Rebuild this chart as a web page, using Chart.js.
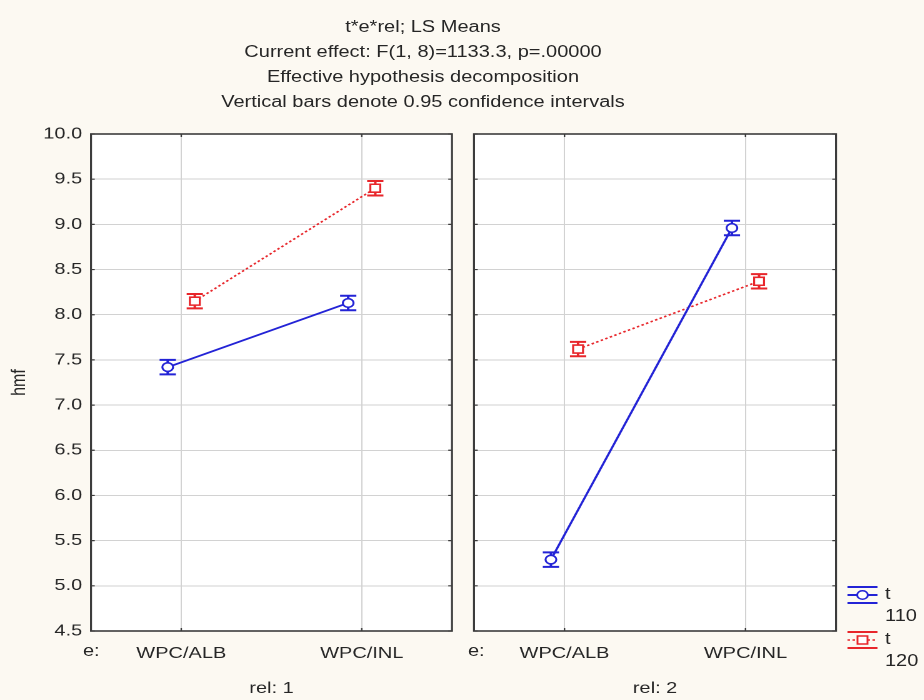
<!DOCTYPE html>
<html>
<head>
<meta charset="utf-8">
<script src="https://cdn.jsdelivr.net/npm/chart.js@4.4.1/dist/chart.umd.min.js"></script>
<style>
  html, body { margin: 0; padding: 0; background: #fcf9f2; }
  body { width: 924px; height: 700px; overflow: hidden; position: relative; }
  /* the reference is stretched sideways, so lay out at 1/1.25 and scale */
  #stage { position: absolute; left: 0; top: 0; width: 740px; height: 700px;
           transform: scaleX(1.25); transform-origin: 0 0;
           font-family: "Liberation Sans", Arial, sans-serif; color: #262626; }
  #title { position: absolute; left: 38.4px; width: 600px; top: 13.5px;
           text-align: center; font-size: 16px; line-height: 25.3px; }
  .e { position: absolute; top: 642px; font-size: 16px; }
  canvas { position: absolute; top: 0; }
  #legend { position: absolute; left: 677px; top: 583px; font-size: 16px; line-height: 22px; }
  .item { position: relative; height: 45px; }
  .item svg { position: absolute; left: 0; top: 2px; }
  .item span { position: absolute; left: 31px; top: 0; }
</style>
</head>
<body>
<div id="stage">
  <div id="title">
    t*e*rel; LS Means<br>
    Current effect: F(1, 8)=1133.3, p=.00000<br>
    Effective hypothesis decomposition<br>
    Vertical bars denote 0.95 confidence intervals
  </div>
  <canvas id="rel1" width="370" height="700" style="left:0"></canvas>
  <canvas id="rel2" width="370" height="700" style="left:370px"></canvas>
  <div class="e" style="left:66.4px">e:</div>
  <div class="e" style="left:374.4px">e:</div>
  <div id="legend">
    <div class="item">
      <svg width="26" height="20" viewBox="0 0 26 20">
        <g stroke="#2323d6" stroke-width="2" fill="none">
          <line x1="1" y1="2" x2="25" y2="2"/><line x1="1" y1="18" x2="25" y2="18"/>
          <line x1="1" y1="10" x2="25" y2="10"/>
        </g>
        <circle cx="13" cy="10" r="4.3" fill="#fff" stroke="#2323d6" stroke-width="1.5"/>
      </svg>
      <span>t<br>110</span>
    </div>
    <div class="item">
      <svg width="26" height="20" viewBox="0 0 26 20">
        <g stroke="#e8262b" stroke-width="2" fill="none">
          <line x1="1" y1="2" x2="25" y2="2"/><line x1="1" y1="18" x2="25" y2="18"/>
          <line x1="1" y1="10" x2="25" y2="10" stroke-dasharray="2 2" stroke-width="1.5"/>
        </g>
        <rect x="9" y="6" width="8" height="8" fill="#fff" stroke="#e8262b" stroke-width="1.5"/>
      </svg>
      <span>t<br>120</span>
    </div>
  </div>
</div>
<script>
const categories = ['WPC/ALB', 'WPC/INL'];
const yTicks = [4.5, 5.0, 5.5, 6.0, 6.5, 7.0, 7.5, 8.0, 8.5, 9.0, 9.5, 10.0];

// LS means, rel: 1
const rel1T110 = [7.42, 8.13];
const rel1T120 = [8.15, 9.40];
// LS means, rel: 2
const rel2T110 = [5.29, 8.96];
const rel2T120 = [7.62, 8.37];
// half width of the 0.95 confidence intervals
const rel1T110Ci = [0.08, 0.08];
const rel1T120Ci = [0.08, 0.08];
const rel2T110Ci = [0.08, 0.08];
const rel2T120Ci = [0.08, 0.08];

const BLUE = '#2323d6';
const RED = '#e8262b';
const TEXT = '#262626';
const GRID = '#d2d2d2';
const SHIFT = 0.075;   // the two t levels sit a little apart

Chart.defaults.font.family = '"Liberation Sans", Arial, sans-serif';
Chart.defaults.font.size = 16;
Chart.defaults.color = TEXT;

const toPoints = (vals, dx) => vals.map((v, i) => ({ x: i + dx, y: v }));

// white plot box, dark frame and the little inner tick marks
const plotFrame = {
    id: 'plotFrame',
    beforeDraw(chart) {
        const { ctx, chartArea: a } = chart;
        ctx.save();
        ctx.fillStyle = '#fff';
        ctx.fillRect(a.left, a.top, a.right - a.left, a.bottom - a.top);
        ctx.restore();
    },
    afterDraw(chart) {
        const { ctx, chartArea: a, scales: { x, y } } = chart;
        ctx.save();
        ctx.strokeStyle = '#3c3c3c';
        ctx.lineWidth = 1.6;
        ctx.strokeRect(a.left, a.top, a.right - a.left, a.bottom - a.top);
        ctx.lineWidth = 1.2;
        ctx.beginPath();
        x.ticks.forEach(t => {
            const px = x.getPixelForValue(t.value);
            ctx.moveTo(px, a.top); ctx.lineTo(px, a.top + 3);
            ctx.moveTo(px, a.bottom); ctx.lineTo(px, a.bottom - 3);
        });
        y.ticks.forEach(t => {
            const py = y.getPixelForValue(t.value);
            ctx.moveTo(a.left, py); ctx.lineTo(a.left + 3, py);
            ctx.moveTo(a.right, py); ctx.lineTo(a.right - 3, py);
        });
        ctx.stroke();
        ctx.restore();
    }
};

const errorBars = {
    id: 'errorBars',
    beforeDatasetsDraw(chart) {
        const { ctx, scales: { x, y } } = chart;
        chart.data.datasets.forEach(ds => {
            ctx.save();
            ctx.strokeStyle = ds.borderColor;
            ctx.lineWidth = 2;
            ds.data.forEach((p, j) => {
                const px = x.getPixelForValue(p.x);
                const hi = y.getPixelForValue(p.y + ds.ci[j]);
                const lo = y.getPixelForValue(p.y - ds.ci[j]);
                ctx.beginPath();
                ctx.moveTo(px - 6.5, hi); ctx.lineTo(px + 6.5, hi);
                ctx.moveTo(px - 6.5, lo); ctx.lineTo(px + 6.5, lo);
                ctx.moveTo(px, hi); ctx.lineTo(px, lo);
                ctx.stroke();
            });
            ctx.restore();
        });
    }
};

const makePanel = function(canvasId, relLabel, t110, t110Ci, t120, t120Ci, isFirst) {
    const ctx = document.getElementById(canvasId).getContext('2d');
    return new Chart(ctx, {
        type: 'line',
        data: {
            datasets: [{
                label: 't 110',
                data: toPoints(t110, -SHIFT),
                ci: t110Ci,
                borderColor: BLUE,
                borderWidth: 1.8,
                pointStyle: 'circle',
                pointRadius: 4.3,
                pointBorderWidth: 1.6,
                pointBackgroundColor: '#fff',
                pointBorderColor: BLUE
            }, {
                label: 't 120',
                data: toPoints(t120, SHIFT),
                ci: t120Ci,
                borderColor: RED,
                borderWidth: 1.6,
                borderDash: [2, 2],
                pointStyle: 'rect',
                pointRadius: 5.6,
                pointBorderWidth: 1.6,
                pointBackgroundColor: '#fff',
                pointBorderColor: RED
            }]
        },
        options: {
            responsive: false,
            animation: false,
            devicePixelRatio: 2,
            layout: { padding: { left: 0, top: 134, right: isFirst ? 8.4 : 71.2, bottom: 0 } },
            plugins: { legend: { display: false }, tooltip: { enabled: false } },
            scales: {
                x: {
                    type: 'linear',
                    min: -0.5,
                    max: 1.5,
                    afterBuildTicks: s => { s.ticks = categories.map((c, i) => ({ value: i })); },
                    afterFit: s => { s.height = 69; },
                    ticks: {
                        callback: v => categories[v],
                        padding: 13,
                        maxRotation: 0,
                        autoSkip: false
                    },
                    grid: { color: GRID, drawTicks: false },
                    border: { display: false },
                    title: { display: true, text: relLabel, padding: { top: 0, bottom: 2 } }
                },
                y: {
                    min: 4.5,
                    max: 10,
                    afterBuildTicks: s => { s.ticks = yTicks.map(v => ({ value: v })); },
                    afterFit: s => { s.width = isFirst ? 72.8 : 9.2; },
                    ticks: {
                        display: isFirst,
                        callback: v => v.toFixed(1),
                        padding: 7
                    },
                    grid: { color: GRID, drawTicks: false },
                    border: { display: false },
                    title: { display: isFirst, text: 'hmf', padding: { top: 6, bottom: 0 } }
                }
            }
        },
        plugins: [plotFrame, errorBars]
    });
};

makePanel('rel1', 'rel: 1', rel1T110, rel1T110Ci, rel1T120, rel1T120Ci, true);
makePanel('rel2', 'rel: 2', rel2T110, rel2T110Ci, rel2T120, rel2T120Ci, false);
</script>
</body>
</html>
